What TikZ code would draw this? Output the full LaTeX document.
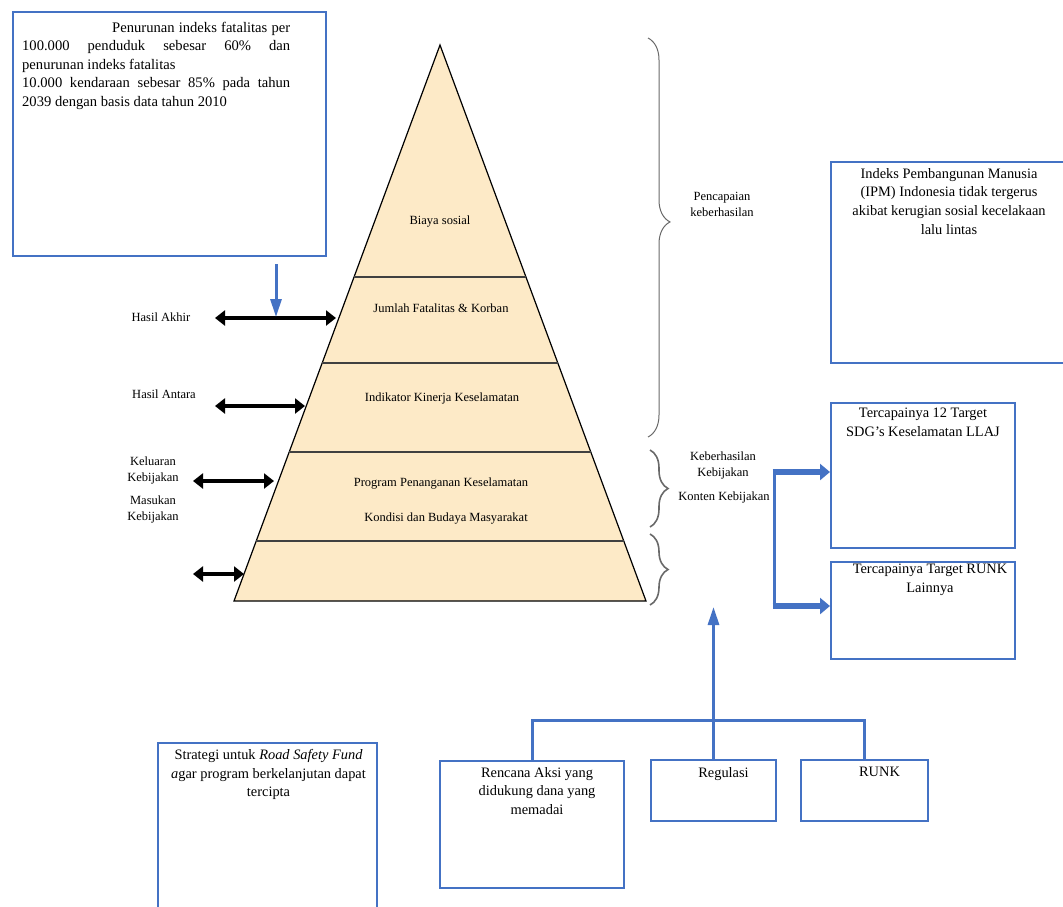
\documentclass[tikz,border=0pt]{standalone}
\usepackage{fontspec}
\setmainfont{Liberation Serif}
\usetikzlibrary{arrows.meta, positioning, calc, decorations.pathreplacing}
\definecolor{boxblue}{RGB}{68,114,196}
\definecolor{peach}{RGB}{253,234,199}
\definecolor{bracegray}{RGB}{105,105,105}

\begin{document}
\begin{tikzpicture}[
    x=1pt, y=-1pt,
    >={Triangle[length=10pt,width=15pt]},
    box/.style={
        rectangle, draw=boxblue, line width=2pt, anchor=north west,
        inner sep=0pt
    },
    boxtext/.style={
        align=center, inner sep=0pt,
        font=\fontsize{14.4}{18.7}\selectfont
    },
    layertext/.style={font=\fontsize{12.5}{15}\selectfont},
    sidelabel/.style={align=center, font=\fontsize{12.5}{16}\selectfont},
    dblarrow/.style={<->, line width=4.5pt},
    bluearrow/.style={-{Triangle[length=18pt,width=11pt]}, draw=boxblue, line width=3pt},
    fatarrow/.style={-{Triangle[length=10pt,width=16pt]}, draw=boxblue, line width=6pt},
    blueline/.style={draw=boxblue, line width=3pt},
    bigbrace/.style={decorate, draw=bracegray, line width=1pt},
    smallbrace/.style={decorate, draw=bracegray, line width=1.6pt},
]
\useasboundingbox (0,0) rectangle (1063,906);

% Target box, top left
\node[box, minimum width=313pt, minimum height=244pt] (goal) at (12,11) {};
\node[anchor=north west, text width=268pt, align=justify, inner sep=0pt,
      font=\fontsize{14.6}{18.5}\selectfont, below right=11pt and 10pt of goal.north west] (goaltxt)
    {\hspace*{90pt}Penurunan indeks fatalitas per\linebreak
     100.000 penduduk sebesar 60\% dan\linebreak
     penurunan indeks fatalitas\\
     10.000 kendaraan sebesar 85\% pada tahun\linebreak
     2039 dengan basis data tahun 2010};

% Pyramid
\coordinate (apex) at (440,45);
\coordinate (bl) at (234,601);
\coordinate (br) at (646,601);
\draw[fill=peach, line width=1.2pt] (apex) -- (bl) -- (br) -- cycle;
\foreach \t in {0.4173,0.5719,0.732,0.892}
    \draw[line width=1.5pt, black!75] ($(apex)!\t!(bl)$) -- ($(apex)!\t!(br)$);

\node[layertext] (biaya) at (440,222) {Biaya sosial};
\node[layertext] (jumlah) at (441,308) {Jumlah Fatalitas \& Korban};
\node[layertext] (indikator) at (442,398) {Indikator Kinerja Keselamatan};
\node[layertext] (program) at (441,484) {Program Penanganan Keselamatan};
\node[layertext] (kondisi) at (446,519) {Kondisi dan Budaya Masyarakat};

% Levels on the left
\node[sidelabel] (akhir) at (161,317) {Hasil Akhir};
\node[sidelabel] (antara) at (164,394) {Hasil Antara};
\node[sidelabel] (keluaran) at (153,470) {Keluaran\\Kebijakan};
\node[sidelabel] (masukan) at (153,509) {Masukan\\Kebijakan};

\coordinate (akhirL) at (215,318);   \coordinate (akhirR) at (336,318);
\coordinate (antaraL) at (215,406);  \coordinate (antaraR) at (305,406);
\coordinate (keluarL) at (193,481);  \coordinate (keluarR) at (274,481);
\coordinate (masukL) at (193,574);   \coordinate (masukR) at (244,574);
\draw[dblarrow] (akhirL) -- (akhirR);
\draw[dblarrow] (antaraL) -- (antaraR);
\draw[dblarrow] (keluarL) -- (keluarR);
\draw[dblarrow] (masukL) -- (masukR);

\coordinate (akhirjoin) at (276,317);
\draw[bluearrow, shorten <=7pt] (goal.south -| akhirjoin) -- (akhirjoin);

% Braces on the right
\draw[bigbrace, decoration={brace, amplitude=22pt, aspect=0.461}] (648,38) -- (648,437);
\draw[smallbrace, decoration={brace, amplitude=18pt}] (650,450) -- (650,527);
\draw[smallbrace, decoration={brace, amplitude=18pt}] (650,534) -- (650,605);

\node[sidelabel] (pencapaian) at (722,204) {Pencapaian\\keberhasilan};
\node[sidelabel] (berhasil) at (723,465) {Keberhasilan\\Kebijakan};
\node[sidelabel] (konten) at (724,497) {Konten Kebijakan};

% Outcome boxes
\node[box, minimum width=236pt, minimum height=201pt] (ipm) at (830,161) {};
\node[boxtext, below=7pt of ipm.north] (ipmtxt)
    {Indeks Pembangunan Manusia\\(IPM) Indonesia tidak tergerus\\akibat kerugian sosial kecelakaan\\lalu lintas};

\node[box, minimum width=184pt, minimum height=145pt] (sdg) at (830,402) {};
\node[boxtext, below=6pt of sdg.north] (sdgtxt) {Tercapainya 12 Target\\SDG’s Keselamatan LLAJ};

\node[box, minimum width=184pt, minimum height=97pt] (lain) at (830,561) {};
\node[boxtext, below=3pt of lain.north, xshift=7pt] (laintxt) {Tercapainya Target RUNK\\Lainnya};

\coordinate (forkT) at (774,472);
\coordinate (forkB) at (774,606);
\draw[blueline] (forkT) -- (forkB);
\draw[fatarrow] ([xshift=-1.5pt]forkT) -- (forkT -| sdg.west);
\draw[fatarrow] ([xshift=-1.5pt]forkB) -- (forkB -| lain.west);

% Policy input boxes, bottom
\node[box, minimum width=219pt, minimum height=170pt] (strat) at (157,742) {};
\node[boxtext, below=7pt of strat.north, xshift=1pt] (strattxt)
    {Strategi untuk \textit{Road Safety Fund}\\\textit{a}gar program berkelanjutan dapat\\tercipta};

\node[box, minimum width=184pt, minimum height=127pt] (rencana) at (439,760) {};
\node[boxtext, below=7pt of rencana.north, xshift=5pt] (rencanatxt)
    {Rencana Aksi yang\\didukung dana yang\\memadai};

\node[box, minimum width=125pt, minimum height=61pt] (reg) at (650,759) {};
\node[boxtext, below=8pt of reg.north, xshift=10pt] (regtxt) {Regulasi};

\node[box, minimum width=127pt, minimum height=61pt] (runk) at (800,759) {};
\node[boxtext, below=8pt of runk.north, xshift=15pt] (runktxt) {RUNK};

\coordinate (bar) at (0,720);
\coordinate (uptip) at (0,607);
\draw[blueline] (rencana.north) |- (runk.north |- bar) -- (runk.north);
\draw[bluearrow] (reg.north) -- (reg.north |- uptip);

\end{tikzpicture}
\end{document}
